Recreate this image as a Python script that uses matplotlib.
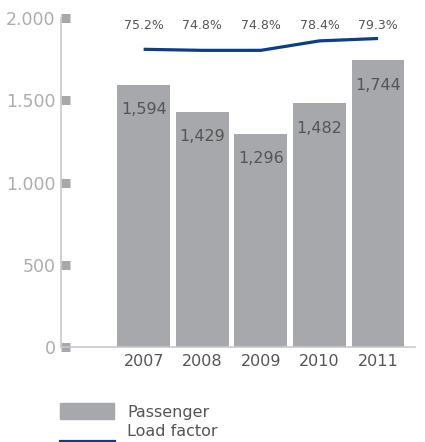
import matplotlib.pyplot as plt
from matplotlib.patches import Rectangle
from matplotlib.lines import Line2D

years = ['2007', '2008', '2009', '2010', '2011']
passengers = [1594, 1429, 1296, 1482, 1744]
load_factor = [75.2, 74.8, 74.8, 78.4, 79.3]

bar_color = '#a7a8ac'
line_color = '#0b3f8a'
text_color = '#555555'
axis_grey = '#c8c8cc'

W, H = 425, 442
fig = plt.figure(figsize=(W / 100, H / 100), dpi=100)

# axes box in pixels: left 61, right 415, top 18 (2000), bottom 347 (0)
ax = fig.add_axes([61 / W, 1 - 347 / H, (415 - 61) / W, (347 - 18) / H])

x = list(range(len(years)))
ax.bar(x, passengers, width=0.9, color=bar_color, zorder=2)
for xi, v in zip(x, passengers):
    ax.annotate(f'{v:,}', (xi, v), xytext=(0, -18), textcoords='offset points',
                ha='center', va='center', fontsize=11.5, color=text_color, zorder=3)

ax.set_xlim(-1.41, 4.63)
ax.set_ylim(0, 2000)
ax.set_yticks([0, 500, 1000, 1500, 2000])
ax.set_yticklabels(['0', '500', '1.000', '1.500', '2.000'])
ax.set_xticks(x)
ax.set_xticklabels(years)

for s in ['top', 'right']:
    ax.spines[s].set_visible(False)
for s in ['left', 'bottom']:
    ax.spines[s].set_color(axis_grey)
    ax.spines[s].set_linewidth(1.2)

ax.tick_params(axis='y', direction='in', length=6.5, width=6.5, color=bar_color,
               labelcolor='#adadad', labelsize=12.5, pad=4)
ax.tick_params(axis='x', length=0, labelcolor=text_color, labelsize=11.5, pad=5)

# load factor on its own scale
ax2 = ax.twinx()
ax2.set_ylim(-38, 87.1)
ax2.plot(x, load_factor, color=line_color, lw=2.3, solid_joinstyle='round',
         solid_capstyle='butt', zorder=4)
ax2.axis('off')
for xi, v in zip(x, load_factor):
    ax.annotate(f'{v:.1f}%', (xi, 1.0), xycoords=('data', 'axes fraction'),
                xytext=(0, -5.5), textcoords='offset points',
                ha='center', va='center', fontsize=9, color=text_color)

# legend
fig.add_artist(Rectangle((60 / W, 1 - 419 / H), 54 / W, 16 / H,
                         transform=fig.transFigure, color=bar_color))
fig.text(127 / W, 1 - 412 / H, 'Passenger', fontsize=11.5, color=text_color,
         va='center', ha='left')
fig.add_artist(Line2D([60 / W, 114 / W], [1 - 440.5 / H, 1 - 440.5 / H],
                      transform=fig.transFigure, color=line_color, lw=2.3))
fig.text(127 / W, 1 - 432 / H, 'Load factor', fontsize=11.5, color=text_color,
         va='center', ha='left')

fig.savefig('out.png', dpi=100)
